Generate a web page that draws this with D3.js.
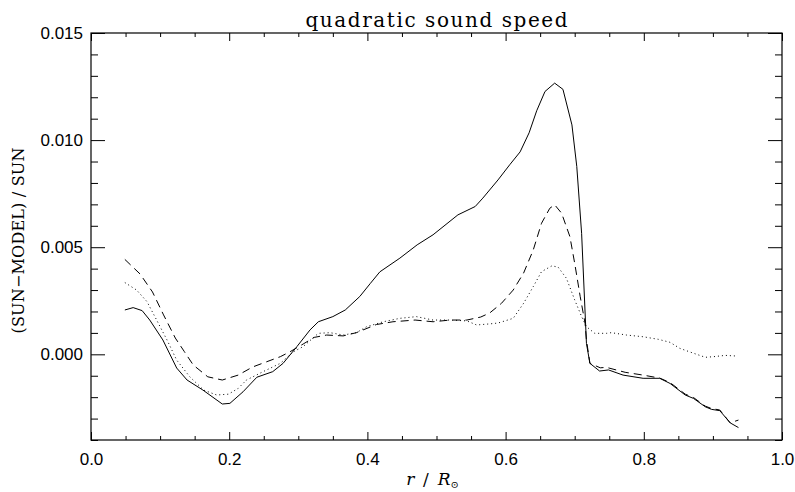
<!DOCTYPE html>
<html>
<head>
    <meta charset="utf-8">
    <title>quadratic sound speed</title>
    <script type="text/javascript" src="https://d3js.org/d3.v7.min.js"></script>
    <style type="text/css">
        body { margin: 0; background: #fff; }
        .tick line { stroke: #000; stroke-width: 1; }
        .tick text { font-family: "Liberation Sans", sans-serif; font-size: 17px; fill: #000; }
        .curve { fill: none; stroke: #000; stroke-width: 1; }
    </style>
</head>
<body>
<script type="text/javascript">

// fractional radius and (SUN-MODEL)/SUN values, units of 1e-3
var rSolid = [0.049, 0.061, 0.074, 0.085, 0.104, 0.124, 0.139, 0.162, 0.190, 0.201, 0.220, 0.240, 0.263, 0.278, 0.298, 0.317, 0.329, 0.350, 0.368, 0.389, 0.404, 0.418, 0.447, 0.472, 0.495, 0.531, 0.556, 0.567, 0.589, 0.606, 0.621, 0.634, 0.645, 0.657, 0.671, 0.683, 0.696, 0.703, 0.710, 0.717, 0.722, 0.736, 0.749, 0.770, 0.799, 0.823, 0.838, 0.860, 0.872, 0.889, 0.898, 0.910, 0.925, 0.937];
var vSolid = [2.07, 2.18, 2.04, 1.60, 0.67, -0.64, -1.20, -1.67, -2.32, -2.29, -1.75, -1.07, -0.81, -0.42, 0.36, 1.14, 1.52, 1.76, 2.07, 2.70, 3.30, 3.85, 4.49, 5.11, 5.58, 6.51, 6.90, 7.29, 8.14, 8.85, 9.45, 10.34, 11.37, 12.27, 12.66, 12.37, 10.71, 8.77, 5.65, 0.51, -0.42, -0.78, -0.73, -0.97, -1.12, -1.12, -1.36, -1.90, -2.06, -2.45, -2.57, -2.63, -3.20, -3.42];

var rDashed = [0.049, 0.071, 0.089, 0.105, 0.122, 0.135, 0.148, 0.169, 0.190, 0.213, 0.234, 0.254, 0.274, 0.288, 0.307, 0.323, 0.341, 0.365, 0.384, 0.413, 0.437, 0.469, 0.495, 0.520, 0.544, 0.564, 0.577, 0.594, 0.611, 0.626, 0.640, 0.652, 0.664, 0.671, 0.681, 0.693, 0.700, 0.708, 0.715, 0.717, 0.722, 0.737, 0.746, 0.773, 0.799, 0.823, 0.838, 0.860, 0.872, 0.889, 0.898, 0.910, 0.925, 0.937];
var vDashed = [4.43, 3.75, 2.91, 1.84, 0.76, 0.13, -0.50, -1.05, -1.20, -0.97, -0.59, -0.35, -0.11, 0.12, 0.48, 0.79, 0.90, 0.86, 1.01, 1.39, 1.52, 1.60, 1.52, 1.60, 1.60, 1.74, 1.93, 2.38, 3.00, 3.79, 4.87, 6.12, 6.82, 6.98, 6.59, 5.50, 4.25, 2.69, 1.45, 0.67, -0.42, -0.63, -0.61, -0.84, -0.97, -1.11, -1.32, -1.86, -2.02, -2.42, -2.53, -2.60, -3.20, -3.07];

var rDotted = [0.049, 0.066, 0.081, 0.095, 0.110, 0.124, 0.143, 0.163, 0.182, 0.199, 0.213, 0.225, 0.249, 0.274, 0.293, 0.307, 0.329, 0.346, 0.365, 0.384, 0.399, 0.423, 0.447, 0.471, 0.495, 0.520, 0.544, 0.558, 0.577, 0.589, 0.611, 0.626, 0.640, 0.652, 0.667, 0.676, 0.688, 0.700, 0.710, 0.717, 0.729, 0.746, 0.753, 0.775, 0.799, 0.821, 0.838, 0.852, 0.872, 0.889, 0.901, 0.918, 0.934];
var vDotted = [3.35, 3.00, 2.46, 1.60, 0.67, -0.27, -1.05, -1.67, -1.90, -1.86, -1.59, -1.20, -0.81, -0.42, 0.12, 0.36, 0.98, 1.01, 0.90, 1.01, 1.29, 1.52, 1.68, 1.76, 1.60, 1.60, 1.56, 1.37, 1.42, 1.46, 1.68, 2.38, 3.16, 3.86, 4.13, 4.07, 3.55, 2.54, 1.76, 1.29, 0.98, 0.98, 1.01, 0.90, 0.82, 0.70, 0.56, 0.28, 0.05, -0.14, -0.11, -0.05, -0.08];

var xMajor = [0.0, 0.2, 0.4, 0.6, 0.8, 1.0];
var yMajor = [0.000, 0.005, 0.010, 0.015];

var titleText = "quadratic sound speed";
var yLabel = "(SUN\u2212MODEL) / SUN";

var margin = {top: 33, right: 13, bottom: 52, left: 91},
    width = 795 - margin.left - margin.right,
    height = 492 - margin.top - margin.bottom;

var x = d3.scaleLinear().domain([0, 1]).range([0, width]);
var y = d3.scaleLinear().domain([-0.004, 0.015]).range([height, 0]);

var xMinor = d3.range(0, 1.0001, 0.05).filter(function(d) { return Math.abs(d * 5 - Math.round(d * 5)) > 1e-6; });
var yMinor = d3.range(-0.004, 0.0150001, 0.001).filter(function(d) { return Math.abs(d / 0.005 - Math.round(d / 0.005)) > 1e-6; });

var svg = d3.select("body").append("svg")
    .attr("width", 795)
    .attr("height", 492)
  .append("g")
    .attr("transform", "translate(" + margin.left + "," + margin.top + ")");

function addAxis(axis, tx, ty, noLabels) {
    var g = svg.append("g")
        .attr("transform", "translate(" + tx + "," + ty + ")")
        .call(axis);
    g.select(".domain").remove();
    if (noLabels) g.selectAll("text").remove();
    return g;
}

// bottom / top
addAxis(d3.axisBottom(x).tickValues(xMajor).tickSize(-8).tickPadding(13).tickFormat(d3.format(".1f")), 0, height, false);
addAxis(d3.axisBottom(x).tickValues(xMinor).tickSize(-4), 0, height, true);
addAxis(d3.axisTop(x).tickValues(xMajor).tickSize(-8), 0, 0, true);
addAxis(d3.axisTop(x).tickValues(xMinor).tickSize(-4), 0, 0, true);

// left / right
addAxis(d3.axisLeft(y).tickValues(yMajor).tickSize(-14).tickPadding(8).tickFormat(d3.format(".3f")), 0, 0, false);
addAxis(d3.axisLeft(y).tickValues(yMinor).tickSize(-7), 0, 0, true);
addAxis(d3.axisRight(y).tickValues(yMajor).tickSize(-14), width, 0, true);
addAxis(d3.axisRight(y).tickValues(yMinor).tickSize(-7), width, 0, true);

svg.append("rect")
    .attr("x", 0).attr("y", 0)
    .attr("width", width).attr("height", height)
    .attr("fill", "none").attr("stroke", "#000").attr("stroke-width", 1.2);

var line = d3.line()
    .x(function(d) { return x(d[0]); })
    .y(function(d) { return y(d[1] / 1000); });

svg.append("path").attr("class", "curve")
    .attr("d", line(d3.zip(rSolid, vSolid)));
svg.append("path").attr("class", "curve")
    .attr("stroke-dasharray", "8,5")
    .attr("d", line(d3.zip(rDashed, vDashed)));
svg.append("path").attr("class", "curve")
    .attr("stroke-dasharray", "1,3")
    .attr("d", line(d3.zip(rDotted, vDotted)));

svg.append("text")
    .attr("x", width / 2).attr("y", -6)
    .attr("text-anchor", "middle")
    .attr("font-family", "DejaVu Serif, serif")
    .attr("font-size", 20)
    .attr("textLength", 262)
    .text(titleText);

svg.append("text")
    .attr("text-anchor", "middle")
    .attr("transform", "translate(-67," + (height / 2 + 4) + ")rotate(-90)")
    .attr("font-family", "DejaVu Serif, serif")
    .attr("font-size", 16)
    .attr("textLength", 186)
    .text(yLabel);

var xl = svg.append("text")
    .attr("x", width / 2 - 4).attr("y", height + 45)
    .attr("text-anchor", "middle")
    .attr("font-family", "DejaVu Serif, serif")
    .attr("font-size", 17);
xl.append("tspan").attr("font-style", "italic").text("r");
xl.append("tspan").text(" \u2009/\u2009 ");
xl.append("tspan").attr("font-style", "italic").text("R");
xl.append("tspan").attr("font-size", 10).attr("dy", 3).text("\u2299");

</script>
</body>
</html>
